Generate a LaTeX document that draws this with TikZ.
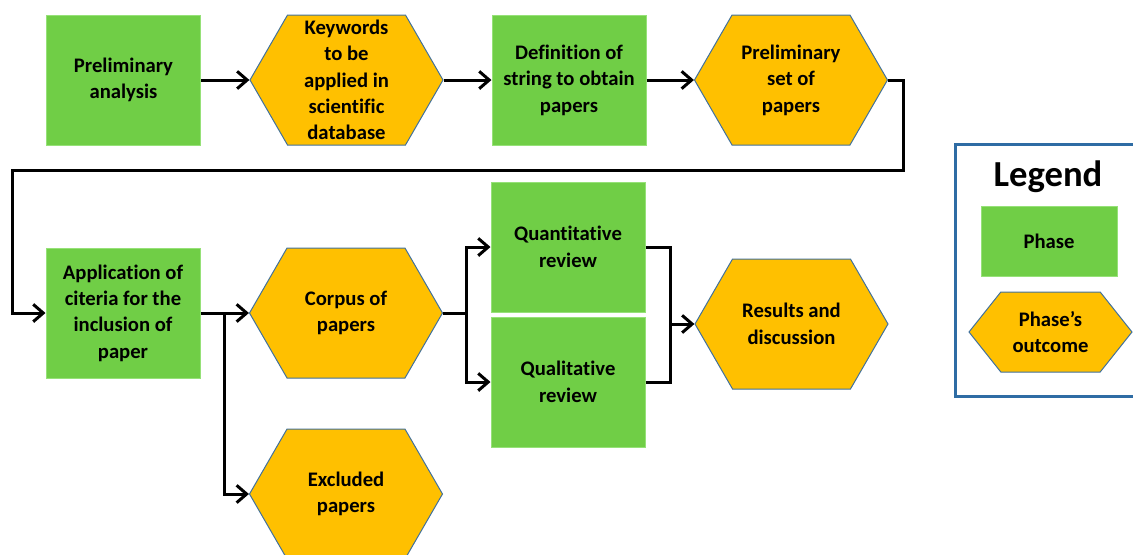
\documentclass[tikz,border=0pt]{standalone}
\usepackage{fontspec}
\setmainfont{Carlito}[Ligatures=NoCommon]
\usetikzlibrary{shapes.symbols,arrows.meta}
\definecolor{pgreen}{RGB}{112,206,70}
\definecolor{pgreenline}{RGB}{150,225,120}
\definecolor{porange}{RGB}{255,192,0}
\definecolor{hexline}{RGB}{65,113,156}
\definecolor{legline}{RGB}{46,108,164}
\tikzset{
  txt/.style={align=center, font=\bfseries\fontsize{15.5}{19.8}\selectfont, text=black, inner sep=0pt},
  phase/.style={txt, rectangle, fill=pgreen, draw=pgreenline, line width=0.75pt},
  outcome/.style={txt, signal, signal to=east and west, signal pointer angle=120,
    fill=porange, draw=hexline, line width=0.75pt, minimum width=144.75pt, minimum height=97.5pt},
  bigbox/.style={phase, minimum width=115.5pt, minimum height=97.5pt},
  conn/.style={line width=2.25pt, black, line join=miter},
  arr/.style={conn, -{Straight Barb[length=7.5pt,width=13pt,line width=2.25pt]}},
}
\begin{document}
\begin{tikzpicture}[x=0.75pt,y=-0.75pt]
\useasboundingbox (0,0) rectangle (1133,554);
% row 1
\node[bigbox] (pa) at (123.5,80) {Preliminary\\analysis};
\node[outcome] (kw) at (346.5,80) {Keywords\\to be\\applied in\\scientific\\database};
\node[bigbox] (def) at (569,80) {Definition of\\string to obtain\\papers};
\node[outcome] (ps) at (791,80) {Preliminary\\set of\\papers};
% row 2
\node[bigbox] (app) at (123,313) {Application of\\citeria for the\\inclusion of\\paper};
\node[outcome] (corpus) at (346,313) {Corpus of\\papers};
\node[outcome] (excl) at (346,494) {Excluded\\papers};
\node[bigbox] (quant) at (568,247) {Quantitative\\review};
\node[bigbox] (qual) at (568,382) {Qualitative\\review};
\node[outcome] (res) at (791.5,324) {Results and\\discussion};
% legend
\draw[legline, line width=2.25pt] (955,144) rectangle (1150,396);
\node[txt, font=\bfseries\fontsize{27.5}{30}\selectfont] (legt) at (1048,177) {Legend};
\node[phase, minimum width=102pt, minimum height=52.5pt] (lphase) at (1049,241) {Phase};
\node[outcome, minimum width=122.25pt, minimum height=60pt, signal pointer angle=103] (lout) at (1050.5,332) {Phase’s\\outcome};
% connectors
\coordinate (c1) at (903,170);
\coordinate (c2) at (12,170);
\coordinate (b1) at (224,313);
\coordinate (b2) at (466,313);
\coordinate (m) at (670,324);
\draw[arr] (pa.east) -- (kw.west);
\draw[arr] (kw.east) -- (def.west);
\draw[arr] (def.east) -- (ps.west);
\draw[arr] (ps.east) -| (c1) -- (c2) |- (app.west);
\draw[arr] (app.east) -- (corpus.west);
\draw[arr] (b1) |- (excl.west);
\draw[conn] (corpus.east) -- (b2);
\draw[arr] (b2) |- (quant.west);
\draw[arr] (b2) |- (qual.west);
\draw[conn] (quant.east) -| (m);
\draw[conn] (qual.east) -| (m);
\draw[arr] (m) -- (res.west);
\end{tikzpicture}
\end{document}
